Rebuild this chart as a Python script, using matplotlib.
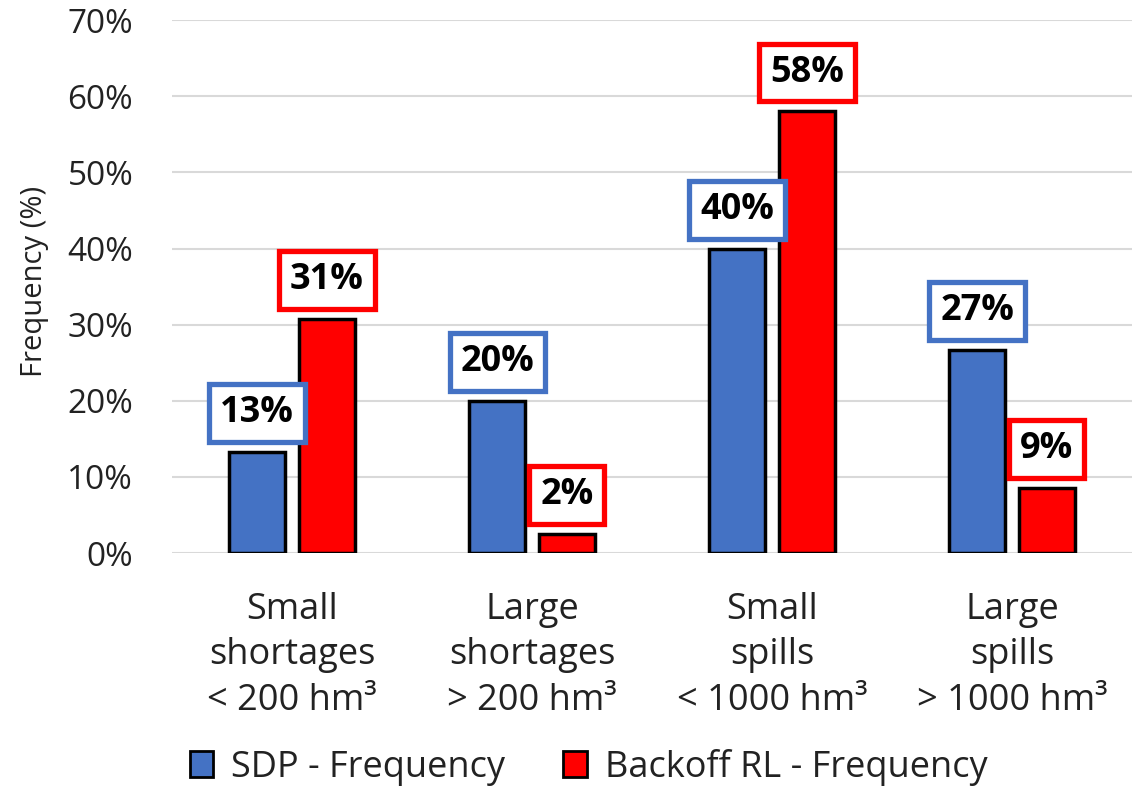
import matplotlib.pyplot as plt
import numpy as np
from matplotlib.patches import Patch
from matplotlib.ticker import PercentFormatter

""" Shortage / spill frequency: SDP vs Backoff RL """

categories = ['Small\nshortages\n< 200 hm³', 'Large\nshortages\n> 200 hm³',
              'Small\nspills\n< 1000 hm³', 'Large\nspills\n> 1000 hm³']
sdp_freq = [13.3, 20.0, 40.0, 26.7]
rl_freq = [30.8, 2.5, 58.0, 8.6]
series_names = ['SDP - Frequency', 'Backoff RL - Frequency']

BLUE = '#4472C4'
RED = '#FF0000'

plt.rcParams['font.family'] = ['Open Sans', 'DejaVu Sans']

fig = plt.figure(figsize=(11.32, 7.86), dpi=100)
ax = fig.add_axes([0.152, 0.2964, 0.848, 0.678])

x = np.arange(len(categories))
width = 0.235
offset = 0.145

ax.bar(x - offset, sdp_freq, width, color=BLUE, edgecolor='black', linewidth=2.5, zorder=3)
ax.bar(x + offset, rl_freq, width, color=RED, edgecolor='black', linewidth=2.5, zorder=3)


def label_bars(xs, values, edge):
    for xi, v in zip(xs, values):
        ax.annotate('{:.0f}%'.format(v), (xi, v), xytext=(0, 15), textcoords='offset points',
                    ha='center', va='bottom', fontsize=26, fontweight='bold', zorder=5,
                    bbox=dict(boxstyle='square,pad=0.3', facecolor='white',
                              edgecolor=edge, linewidth=3.8))


label_bars(x - offset, sdp_freq, BLUE)
label_bars(x + offset, rl_freq, RED)

ax.set_xlim(-0.5, 3.5)
ax.set_ylim(0, 70)
ax.set_yticks(np.arange(0, 71, 10))
ax.yaxis.set_major_formatter(PercentFormatter(decimals=0))
ax.set_xticks(x)
ax.set_xticklabels(categories, fontsize=26, color='#222222', linespacing=1.35)
ax.tick_params(axis='y', labelsize=24, labelcolor='#222222', length=0, pad=28)
ax.tick_params(axis='x', length=0, pad=28)
ax.set_ylabel('Frequency (%)', fontsize=21, color='#222222', va='center')
ax.yaxis.set_label_coords(-0.143, 0.51)

ax.grid(axis='y', color='#D9D9D9', linewidth=1.5, zorder=0)
for side in ['top', 'right', 'left', 'bottom']:
    ax.spines[side].set_visible(False)

handles = [Patch(facecolor=BLUE, edgecolor='black', linewidth=2),
           Patch(facecolor=RED, edgecolor='black', linewidth=2)]
fig.legend(handles, series_names, loc='center', bbox_to_anchor=(0.52, 0.024), ncol=2,
           frameon=False, fontsize=26, handlelength=0.65, handleheight=0.75,
           handletextpad=0.5, columnspacing=1.6, labelcolor='#222222')

fig.savefig('out.png', dpi=100)
